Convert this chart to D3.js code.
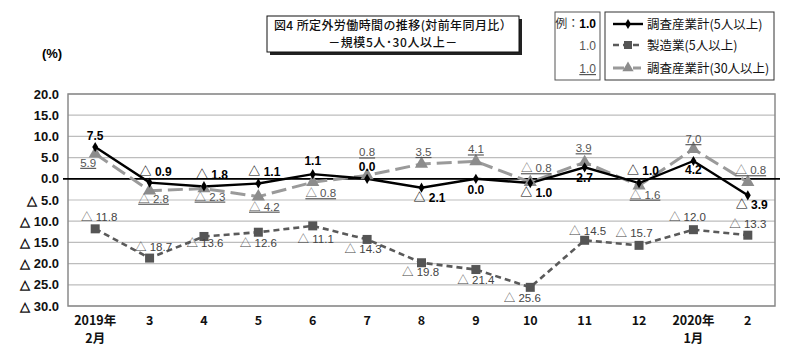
<!DOCTYPE html>
<html><head><meta charset="utf-8">
<script src="https://cdn.jsdelivr.net/npm/d3@7"></script>
<style>
body{margin:0;background:#fff;}
svg{display:block;}
text{font-family:"Liberation Sans Narrow","Liberation Sans","Noto Sans CJK JP",sans-serif;}
.jp{font-family:"Noto Sans CJK JP",sans-serif;}
</style></head>
<body>
<svg id="c" width="800" height="358"></svg>
<script>
// ---- data ----
const categories = [["2019年","2月"],["3"],["4"],["5"],["6"],["7"],["8"],["9"],["10"],["11"],["12"],["2020年","1月"],["2"]];
const seriesNames = ["調査産業計(5人以上)","製造業(5人以上)","調査産業計(30人以上)"];
const total5 = [7.5,-0.9,-1.8,-1.1,1.1,0.0,-2.1,0.0,-1.0,2.7,-1.0,4.2,-3.9];
const manuf5 = [-11.8,-18.7,-13.6,-12.6,-11.1,-14.3,-19.8,-21.4,-25.6,-14.5,-15.7,-12.0,-13.3];
const total30 = [5.9,-2.8,-2.3,-4.2,-0.8,0.8,3.5,4.1,-0.8,3.9,-1.6,7.0,-0.8];
const yTicks = [20,15,10,5,0,-5,-10,-15,-20,-25,-30];
const titleLines = ["図4  所定外労働時間の推移(対前年同月比）","－規模5人･30人以上－"];

// label placement (offsets from point, px)
const lab1 = [[0,-7],[6,-7],[8,-7],[6,-7],[0,-9],[0,-8],[8,14],[0,15],[6,14],[0,15],[4,-8],[0,13],[4,14]];
const lab2 = [[4,-8],[4,-7],[1,11],[0,15],[3,17],[-4,14],[-1,13],[0,14],[-8,15],[3,-5],[-5,-8],[-6,-9],[0,-7]];
const lab3 = [[-7,13],[4,12],[6,12],[6,14],[8,15],[0,-19],[2,-8],[0,-8],[6,-10],[-1,-10],[6,13],[0,-6],[3,-8]];

const fmt = v => v < 0 ? "△ " + (-v).toFixed(1) : v.toFixed(1);

const svg = d3.select("#c");
const L = 68, R = 775, T = 94, B = 306;
const x = d3.scaleBand().domain(categories.map((c,i)=>i)).range([L,R]).padding(0);
const cx = i => x(i) + x.bandwidth()/2;
const y = d3.scaleLinear().domain([-30,20]).range([B,T]);

// grid
svg.append("g").selectAll("line").data(yTicks).join("line")
  .attr("x1",L).attr("x2",R).attr("y1",d=>y(d)).attr("y2",d=>y(d))
  .attr("stroke","#bdbdbd").attr("stroke-width",1.2);
svg.append("rect").attr("x",L).attr("y",T).attr("width",R-L).attr("height",B-T)
  .attr("fill","none").attr("stroke","#8a8a8a").attr("stroke-width",1.5);
svg.append("line").attr("x1",L-5).attr("x2",R+5).attr("y1",y(0)).attr("y2",y(0))
  .attr("stroke","#000").attr("stroke-width",1.8);

// y axis
const ya = svg.append("g").attr("transform",`translate(${L},0)`)
  .call(d3.axisLeft(y).tickValues(yTicks).tickFormat(fmt).tickSize(0).tickPadding(9));
ya.select(".domain").remove();
ya.selectAll("text").attr("font-size",13).attr("font-weight","bold").attr("fill","#111")
  .style("font-family",'"Liberation Sans Narrow","Liberation Sans",sans-serif');

// x axis
const xa = svg.append("g").attr("transform",`translate(0,${B})`)
  .call(d3.axisBottom(x).tickSize(0).tickFormat(""));
xa.select(".domain").remove();
xa.selectAll(".tick").each(function(d){
  const g = d3.select(this);
  categories[d].forEach((s,k)=>{
    g.append("text").attr("fill","#111").attr("font-size",12.5)
      .attr("font-weight","bold").attr("text-anchor","middle")
      .style("font-family",'"Liberation Sans Narrow","Noto Sans CJK JP",sans-serif')
      .attr("x",0).attr("y",19+k*18).text(s);
  });
});

// (%)
svg.append("text").attr("x",52).attr("y",58).attr("text-anchor","middle")
  .attr("font-size",13).attr("font-weight","bold").text("(%)");

// lines
const line = d3.line().x((d,i)=>cx(i)).y(d=>y(d));
svg.append("path").datum(manuf5).attr("d",line).attr("fill","none")
  .attr("stroke","#5a5a5a").attr("stroke-width",2.6).attr("stroke-dasharray","6,4");
svg.append("path").datum(total30).attr("d",line).attr("fill","none")
  .attr("stroke","#9a9a9a").attr("stroke-width",3).attr("stroke-dasharray","15,6");
svg.append("path").datum(total5).attr("d",line).attr("fill","none")
  .attr("stroke","#000").attr("stroke-width",2.4);

// markers
svg.append("g").selectAll("rect").data(manuf5).join("rect")
  .attr("x",(d,i)=>cx(i)-4.5).attr("y",d=>y(d)-4.5).attr("width",9).attr("height",9).attr("fill","#555");
const tri = d3.symbol().type(d3.symbolTriangle).size(75);
svg.append("g").selectAll("path").data(total30).join("path")
  .attr("d",tri).attr("transform",(d,i)=>`translate(${cx(i)},${y(d)})`).attr("fill","#8c8c8c");
const dia = d3.symbol().type(d3.symbolDiamond).size(30);
svg.append("g").selectAll("path").data(total5).join("path")
  .attr("d",dia).attr("transform",(d,i)=>`translate(${cx(i)},${y(d)})`).attr("fill","#000");

// data labels
svg.append("g").selectAll("text").data(manuf5).join("text")
  .attr("x",(d,i)=>cx(i)+lab2[i][0]).attr("y",(d,i)=>y(d)+lab2[i][1])
  .attr("text-anchor","middle").attr("font-size",11.5).attr("fill","#444").text(fmt);
svg.append("g").selectAll("text").data(total30).join("text")
  .attr("x",(d,i)=>cx(i)+lab3[i][0]).attr("y",(d,i)=>y(d)+lab3[i][1])
  .attr("text-anchor","middle").attr("font-size",11.5).attr("fill","#555")
  .attr("text-decoration","underline").text(fmt);
svg.append("g").selectAll("text").data(total5).join("text")
  .attr("x",(d,i)=>cx(i)+lab1[i][0]).attr("y",(d,i)=>y(d)+lab1[i][1])
  .attr("text-anchor","middle").attr("font-size",12).attr("font-weight","bold").attr("fill","#000").text(fmt);

// title box
svg.append("rect").attr("x",270).attr("y",19).attr("width",252).attr("height",36).attr("fill","#222");
svg.append("rect").attr("x",267).attr("y",16).attr("width",252).attr("height",36).attr("fill","#fff")
  .attr("stroke","#111").attr("stroke-width",1);
titleLines.forEach((s,k)=>{
  svg.append("text").attr("class","jp").attr("x",393).attr("y",30+k*17).attr("text-anchor","middle")
    .attr("font-size",12).attr("font-weight",500).attr("fill","#111")
    .attr("letter-spacing",k===0?0.4:0.6).text(s);
});

// legend example box
svg.append("rect").attr("x",555).attr("y",12).attr("width",45).attr("height",68)
  .attr("fill","#fff").attr("stroke","#555").attr("stroke-width",1);
const ex = svg.append("text").attr("x",596).attr("y",28).attr("text-anchor","end").attr("font-size",12);
ex.append("tspan").attr("class","jp").attr("fill","#333").text("例：");
ex.append("tspan").attr("font-weight","bold").attr("fill","#000").text("1.0");
svg.append("text").attr("x",596).attr("y",50).attr("text-anchor","end").attr("font-size",12)
  .attr("fill","#555").text("1.0");
svg.append("text").attr("x",596).attr("y",73).attr("text-anchor","end").attr("font-size",12)
  .attr("fill","#555").attr("text-decoration","underline").text("1.0");

// legend box
svg.append("rect").attr("x",605).attr("y",12).attr("width",169).attr("height",68)
  .attr("fill","#fff").attr("stroke","#333").attr("stroke-width",1);
const legY = [24,45,68];
const lg = svg.append("g");
lg.append("line").attr("x1",613).attr("x2",643).attr("y1",legY[0]).attr("y2",legY[0]).attr("stroke","#000").attr("stroke-width",2.4);
lg.append("path").attr("d",dia).attr("transform",`translate(628,${legY[0]})`);
lg.append("line").attr("x1",613).attr("x2",643).attr("y1",legY[1]).attr("y2",legY[1]).attr("stroke","#5a5a5a").attr("stroke-width",2.6).attr("stroke-dasharray","6,4");
lg.append("rect").attr("x",624).attr("y",legY[1]-4).attr("width",8).attr("height",8).attr("fill","#555");
lg.append("line").attr("x1",613).attr("x2",641).attr("y1",legY[2]).attr("y2",legY[2]).attr("stroke","#9a9a9a").attr("stroke-width",3).attr("stroke-dasharray","11,4,2,3");
lg.append("path").attr("d",d3.symbol().type(d3.symbolTriangle).size(55)).attr("transform",`translate(628,${legY[2]})`).attr("fill","#8c8c8c");
seriesNames.forEach((s,k)=>{
  lg.append("text").attr("class","jp").attr("x",647).attr("y",legY[k]+5).attr("font-size",12.5)
    .attr("fill","#111").text(s);
});
</script>
</body></html>
